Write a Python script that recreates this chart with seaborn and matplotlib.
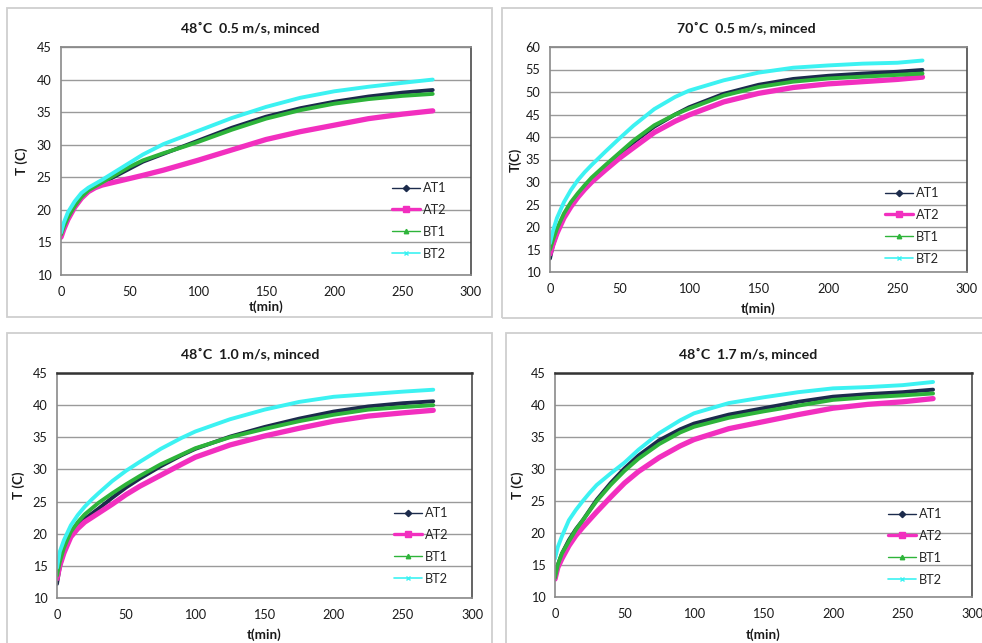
import matplotlib
matplotlib.use("Agg")
import matplotlib.pyplot as plt
from matplotlib.lines import Line2D
from matplotlib.patches import Rectangle
import pandas as pd
import seaborn as sns

# ---- measured temperatures (deg C) against time (min) ----
t_main = [0, 2, 5, 10, 15, 20, 25, 30, 40, 50, 60, 75, 90, 100, 125, 150, 175, 200, 225, 250, 272]
t_70 = [0, 2, 5, 10, 15, 20, 25, 30, 40, 50, 60, 75, 90, 100, 125, 150, 175, 200, 225, 250, 268]

# 48 C, 0.5 m/s
a1_48_05 = [16.0, 17.2, 18.6, 20.5, 21.9, 22.9, 23.5, 24.1, 25.2, 26.3, 27.4, 28.6, 29.8, 30.6, 32.6, 34.3, 35.6, 36.6, 37.4, 38.0, 38.4]
a2_48_05 = [15.8, 17.0, 18.5, 20.4, 21.8, 22.8, 23.4, 23.8, 24.3, 24.8, 25.3, 26.1, 27.0, 27.6, 29.2, 30.8, 32.0, 33.0, 34.0, 34.7, 35.2]
b1_48_05 = [16.2, 17.4, 18.8, 20.6, 22.0, 23.0, 23.6, 24.2, 25.4, 26.6, 27.6, 28.7, 29.7, 30.4, 32.3, 34.0, 35.3, 36.3, 37.0, 37.5, 37.8]
b2_48_05 = [16.5, 18.0, 19.6, 21.3, 22.6, 23.4, 24.0, 24.6, 25.9, 27.2, 28.5, 30.1, 31.3, 32.1, 34.1, 35.8, 37.2, 38.2, 38.9, 39.5, 40.0]

# 70 C, 0.5 m/s
a1_70_05 = [13.0, 15.8, 18.6, 22.3, 24.8, 26.8, 28.7, 30.4, 33.2, 36.2, 38.8, 42.3, 45.0, 46.6, 49.6, 51.6, 52.9, 53.6, 54.1, 54.5, 54.9]
a2_70_05 = [14.0, 16.0, 18.6, 22.0, 24.5, 26.6, 28.4, 30.0, 32.7, 35.3, 37.6, 41.0, 43.5, 44.9, 47.8, 49.7, 51.0, 51.8, 52.3, 52.8, 53.3]
b1_70_05 = [15.0, 17.0, 19.6, 23.0, 25.5, 27.5, 29.3, 31.0, 33.8, 36.5, 39.2, 42.6, 45.0, 46.3, 49.2, 51.1, 52.3, 53.0, 53.4, 53.8, 54.1]
b2_70_05 = [16.4, 19.0, 22.0, 25.5, 28.2, 30.4, 32.2, 33.8, 36.8, 39.7, 42.5, 46.2, 48.9, 50.3, 52.6, 54.3, 55.4, 55.9, 56.3, 56.5, 57.0]

# 48 C, 1.0 m/s
a1_48_10 = [12.2, 14.8, 17.2, 19.8, 21.3, 22.3, 23.1, 23.9, 25.6, 27.2, 28.6, 30.5, 32.2, 33.2, 35.1, 36.6, 37.9, 39.0, 39.8, 40.3, 40.6]
a2_48_10 = [13.0, 15.0, 17.0, 19.5, 20.8, 21.8, 22.5, 23.2, 24.6, 26.1, 27.4, 29.1, 30.8, 31.9, 33.8, 35.2, 36.4, 37.5, 38.3, 38.8, 39.2]
b1_48_10 = [13.5, 15.6, 17.8, 20.3, 21.8, 23.0, 23.9, 24.8, 26.3, 27.7, 29.0, 30.8, 32.3, 33.3, 35.0, 36.3, 37.5, 38.5, 39.3, 39.7, 40.0]
b2_48_10 = [14.7, 17.2, 19.0, 21.3, 22.9, 24.2, 25.3, 26.3, 28.2, 29.8, 31.2, 33.2, 34.9, 35.9, 37.8, 39.3, 40.5, 41.3, 41.7, 42.1, 42.4]

# 48 C, 1.7 m/s
a1_48_17 = [12.8, 15.0, 16.8, 18.9, 20.6, 22.0, 23.6, 25.2, 27.8, 30.1, 32.1, 34.5, 36.2, 37.1, 38.5, 39.5, 40.5, 41.3, 41.7, 42.0, 42.4]
a2_48_17 = [12.8, 14.6, 16.0, 18.0, 19.6, 20.9, 22.1, 23.3, 25.6, 27.8, 29.6, 31.8, 33.6, 34.6, 36.3, 37.4, 38.5, 39.5, 40.1, 40.5, 41.0]
b1_48_17 = [13.0, 15.0, 16.8, 18.7, 20.5, 22.0, 23.5, 25.0, 27.5, 29.7, 31.6, 33.9, 35.7, 36.6, 38.0, 39.0, 39.9, 40.8, 41.2, 41.5, 41.8]
b2_48_17 = [16.0, 17.8, 19.5, 22.0, 23.6, 25.0, 26.3, 27.5, 29.3, 31.0, 33.0, 35.6, 37.6, 38.7, 40.3, 41.2, 42.0, 42.6, 42.8, 43.1, 43.6]

series_names = ["AT1", "AT2", "BT1", "BT2"]
titles = ["48\u02daC  0.5 m/s, minced", "70\u02daC  0.5 m/s, minced",
          "48\u02daC  1.0 m/s, minced", "48\u02daC  1.7 m/s, minced"]
ylabels = ["T (C)", "T(C)", "T (C)", "T (C)"]
xlabel = "t(min)"
y_ranges = [(10, 45), (10, 60), (10, 45), (10, 45)]
y_step = 5
x_ticks = [0, 50, 100, 150, 200, 250, 300]

# ---- styling ----
W, H = 982, 643
colors = {"AT1": "#1c2b4c", "AT2": "#f22fbf", "BT1": "#2eb43a", "BT2": "#3cf2f2"}
line_w = {"AT1": 2.8, "AT2": 3.8, "BT1": 2.8, "BT2": 2.8}
leg_style = {
    "AT1": dict(marker="D", markersize=3.2, lw=1.0),
    "AT2": dict(marker="s", markersize=5.0, lw=2.4),
    "BT1": dict(marker="^", markersize=3.2, lw=1.0),
    "BT2": dict(marker="x", markersize=3.5, lw=1.2, markeredgewidth=1.0),
}

sns.set_style("white")
plt.rcParams["font.family"] = ["Lato", "DejaVu Sans"]

fig = plt.figure(figsize=(W / 100, H / 100), dpi=100)

# panel geometry in pixels: axes (left, right, top, bottom), frame (x0, y0, x1, y1)
axes_px = [(61, 471, 47, 275), (550, 967, 47, 272), (57, 472, 373, 598), (555, 972, 373, 597)]
frames_px = [(7, 8, 492, 317), (502, 8, 990, 318), (7, 333, 492, 660), (506, 333, 990, 660)]
title_x = [250, 746, 250, 748]
title_y = [28, 28, 354, 354]
ylabel_x = [22, 515, 19, 518]
xlabel_y = [307, 309, 635, 635]
legend_px = [(392, 182), (885, 187), (394, 507), (888, 508)]

panels = [
    (t_main, [a1_48_05, a2_48_05, b1_48_05, b2_48_05]),
    (t_70, [a1_70_05, a2_70_05, b1_70_05, b2_70_05]),
    (t_main, [a1_48_10, a2_48_10, b1_48_10, b2_48_10]),
    (t_main, [a1_48_17, a2_48_17, b1_48_17, b2_48_17]),
]


def fx(px):
    return px / W


def fy(py):
    return 1 - py / H


for i, (times, vals) in enumerate(panels):
    x0, y0, x1, y1 = frames_px[i]
    fig.patches.append(Rectangle((fx(x0), fy(y1)), (x1 - x0) / W, (y1 - y0) / H,
                                 transform=fig.transFigure, fill=False,
                                 ec="#cfcfcf", lw=1.3, zorder=0))
    l, r, t, b = axes_px[i]
    ax = fig.add_axes([fx(l), fy(b), (r - l) / W, (b - t) / H])

    df = pd.DataFrame({"t": list(times) * 4,
                       "T": [v for s in vals for v in s],
                       "probe": [n for n in series_names for _ in times]})
    for name in series_names:
        sub = df[df["probe"] == name]
        sns.lineplot(data=sub, x="t", y="T", ax=ax, color=colors[name],
                     lw=line_w[name], legend=False, sort=False)

    lo, hi = y_ranges[i]
    ax.set_xlim(0, 300)
    ax.set_ylim(lo, hi)
    ax.set_xticks(x_ticks)
    ax.set_yticks(range(lo, hi + 1, y_step))
    ax.grid(axis="y", color="#9a9a9a", lw=1.0)
    ax.grid(axis="x", visible=False)
    ax.set_axisbelow(True)
    ax.set_xlabel("")
    ax.set_ylabel("")
    ax.tick_params(axis="both", direction="out", length=4, width=1,
                   color="#8a8a8a", labelsize=9.2, labelcolor="#1a1a1a", pad=3)
    ax.tick_params(axis="x", pad=4)
    for side in ("left", "bottom"):
        ax.spines[side].set_color("#8a8a8a")
        ax.spines[side].set_linewidth(1.2)
    ax.spines["right"].set_color("#4a4a4a")
    ax.spines["right"].set_linewidth(1.2)
    ax.spines["top"].set_color("#8a8a8a" if i < 2 else "#333333")
    ax.spines["top"].set_linewidth(1.3 if i < 2 else 1.8)

    handles = [Line2D([], [], color=colors[n], **leg_style[n]) for n in series_names]
    lx, ly = legend_px[i]
    ax.legend(handles, series_names, loc="upper left",
              bbox_to_anchor=(fx(lx), fy(ly)), bbox_transform=fig.transFigure,
              frameon=False, fontsize=9.2, handlelength=2.2, handletextpad=0.25,
              labelspacing=0.78, borderpad=0, borderaxespad=0)

    fig.text(fx(title_x[i]), fy(title_y[i]), titles[i], ha="center", va="center",
             fontsize=10.2, fontweight="bold", color="#1a1a1a")
    fig.text(fx(ylabel_x[i]), fy((t + b) / 2), ylabels[i], rotation=90,
             ha="center", va="center", fontsize=9.6, fontweight="bold", color="#1a1a1a")
    fig.text(fx((l + r) / 2), fy(xlabel_y[i]), xlabel, ha="center", va="center",
             fontsize=9.6, fontweight="bold", color="#1a1a1a")

fig.savefig("out.png", dpi=100, facecolor="white")
